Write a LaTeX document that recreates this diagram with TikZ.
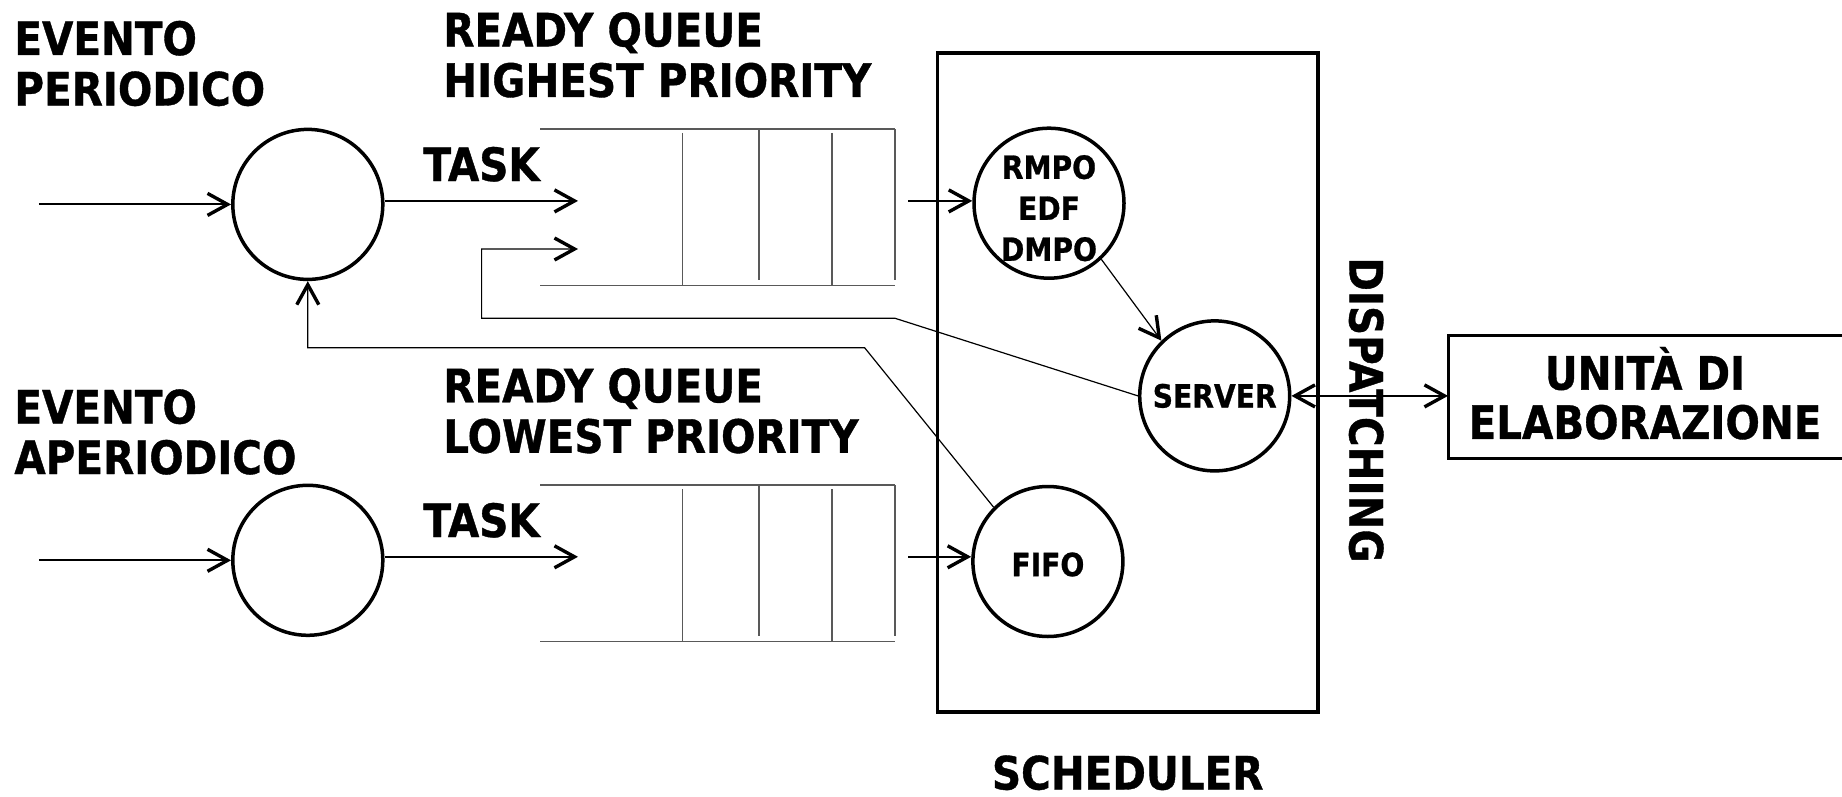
\documentclass[tikz,border=0pt]{standalone}
\usepackage{fontspec}
\newfontfamily\dv[FakeStretch=0.88,BoldFeatures={FakeBold=0.8}]{DejaVu Sans}
\usetikzlibrary{arrows.meta}
\begin{document}
\begin{tikzpicture}[x=0.5pt,y=-0.5pt,
  big/.style={font=\dv\bfseries\fontsize{23pt}{25.3pt}\selectfont, inner sep=0pt},
  small/.style={font=\dv\bfseries\fontsize{16pt}{20.5pt}\selectfont, inner sep=0pt},
  proc/.style={circle, draw, line width=1.75pt, minimum size=75pt, inner sep=0pt},
  arr/.style={-{Straight Barb[length=10pt,width=11pt,line width=1.7pt]}},
  darr/.style={{Straight Barb[length=10pt,width=11pt,line width=1.7pt]}-{Straight Barb[length=10pt,width=11pt,line width=1.7pt]}},
  conn/.style={line width=1pt},
  thinl/.style={line width=0.6pt},
  qline/.style={line width=0.8pt, draw=black!65},
  frame/.style={draw, line width=1.75pt, inner sep=0pt},
]
\useasboundingbox (0,0) rectangle (1842,797);

% scheduler frame
\node[frame, minimum width=190.35pt, minimum height=329.5pt] (sched) at (1127.75,382.4) {};

% process circles
\node[proc] (p1) at (307.8,204.4) {};
\node[proc] (p2) at (307.8,560.3) {};
\node[proc] (rmpo) at (1049,203.2) {};
\node[proc] (server) at (1214.7,395.9) {};
\node[proc] (fifo) at (1047.9,561.5) {};
\node[small, align=center] (rmpotxt) at ([yshift=-2.5pt]rmpo.center) {RMPO\\EDF\\DMPO};
\node[small] (servertxt) at (server.center) {SERVER};
\node[small] (fifotxt) at ([yshift=-1.5pt]fifo.center) {FIFO};

% processing unit box (open at the right page edge)
\node[minimum width=196.8pt, minimum height=61pt, inner sep=0pt] (unita) at (1645.2,397) {};
\draw[line width=1.5pt] ([xshift=3pt]unita.north east) -- (unita.north west) -- (unita.south west) -- ([xshift=3pt]unita.south east);
\node[big, anchor=base] (u1) at (1645,389.6) {UNITÀ DI};
\node[big, anchor=base] (u2) at (1645,438.9) {ELABORAZIONE};

% queues
\foreach \dy in {0,356}{
  \begin{scope}[shift={(0,\dy)}]
    \draw[qline] (540.4,129.2) -- (895.1,129.2) (540.4,285.5) -- (895.1,285.5)
      (682.5,133) -- (682.5,285.5) (758.9,129.2) -- (758.9,280)
      (831.7,133) -- (831.7,285.5) (895.1,129.2) -- (895.1,280);
  \end{scope}
}

% texts
\node[big, anchor=base west] (ev1) at (14,55) {EVENTO};
\node[big, anchor=base west] (ev2) at (14,105.5) {PERIODICO};
\node[big, anchor=base west] (ev3) at (14,423.5) {EVENTO};
\node[big, anchor=base west] (ev4) at (14,474) {APERIODICO};
\node[big, anchor=base west] (rq1) at (442.9,46.4) {READY QUEUE};
\node[big, anchor=base west] (rq2) at (442.9,96.9) {HIGHEST PRIORITY};
\node[big, anchor=base west] (rq3) at (442.9,402.3) {READY QUEUE};
\node[big, anchor=base west] (rq4) at (442.9,452.8) {LOWEST PRIORITY};
\node[big, anchor=base] (task1) at (481.6,181) {TASK};
\node[big, anchor=base] (task2) at (481.6,537) {TASK};
\node[big, anchor=base] (schedlabel) at (1127.7,789.5) {SCHEDULER};
\node[big, rotate=-90] (disp) at (1366.2,410) {DISPATCHING};

% connectors
\coordinate (in1) at (38.8,204.4);
\coordinate (in2) at (38.8,560.3);
\coordinate (q1in) at (578,200.9);
\coordinate (q2in) at (578,556.8);
\coordinate (q1out) at (908,200.9);
\coordinate (q2out) at (908,556.8);
\draw[conn,arr] (in1) -- (p1.west);
\draw[conn,arr] (in2) -- (p2.west);
\draw[conn,arr] (p1.east |- q1in) -- (q1in);
\draw[conn,arr] (p2.east |- q2in) -- (q2in);
\draw[conn,arr] (q1out) -- (rmpo.west |- q1out);
\draw[conn,arr] (q2out) -- (fifo.west |- q2out);

\coordinate (a1) at (895.1,318.3);
\coordinate (a2) at (481.6,318.3);
\coordinate (a3) at (481.6,249);
\coordinate (a4) at (578,249);
\draw[thinl,arr] (server.west) -- (a1) -- (a2) -- (a3) -- (a4);

\coordinate (b1) at (864.6,347.7);
\coordinate (b2) at (307.8,347.7);
\draw[thinl,arr] (fifo.135) -- (b1) -- (b2) -- (p1.south);

\draw[thinl,arr] (rmpo.-47) -- (server.134);
\draw[thinl,darr] (server.east) -- (server.east -| unita.west);
\end{tikzpicture}
\end{document}
